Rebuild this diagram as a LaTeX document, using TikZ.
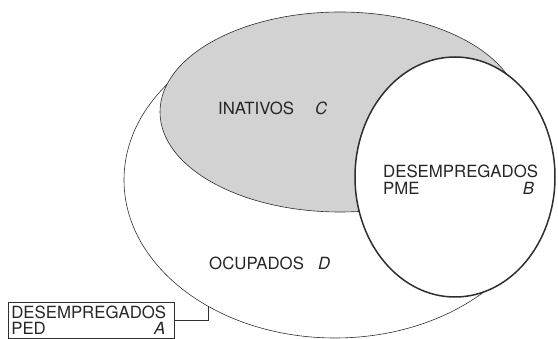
\documentclass[tikz,border=0pt]{standalone}
\usepackage{fontspec}
\setmainfont{TeX Gyre Heros}
\usetikzlibrary{positioning, shapes.geometric}
\definecolor{vline}{HTML}{2E2E2E}
\definecolor{vshade}{HTML}{D2D2D2}
\tikzset{
  setshape/.style={ellipse, draw=vline, inner sep=0pt, outer sep=0pt, line width=0.6pt},
  lab/.style={font=\fontsize{16.8}{16.5}\selectfont, inner sep=0pt, anchor=base west, text=black!85},
  wire/.style={draw=vline, line width=0.6pt},
}

\begin{document}
\begin{tikzpicture}[x=1pt, y=-1pt,
    pedbox/.style={draw=vline, line width=0.6pt, font=\fontsize{16.8}{15.5}\selectfont,
                   text width=160pt, align=left, inner xsep=3pt, inner ysep=4pt,
                   anchor=north west, text=black!85}]
  \useasboundingbox (0,0) rectangle (558,339);
  \node[setshape, minimum width=422pt, minimum height=316pt] (ocup) at (335,180) {};
  \node[setshape, fill=vshade, minimum width=360pt, minimum height=200pt] (inat) at (340,112) {};
  \node[setshape, fill=white, line width=1.5pt, minimum width=200pt, minimum height=240pt] (pme) at (455,177) {};
  \node[lab] (inatT) at (218,115) {INATIVOS};
  \node[lab] (inatL) at (315,115) {\textit{C}};
  \node[lab] (ocupT) at (209,270) {OCUPADOS};
  \node[lab] (ocupL) at (318,270) {\textit{D}};
  \node[lab, text width=151pt, align=left] (pmeT) at (383,178) {DESEMPREGADOS\\PME\hfill\textit{B}};
  \node[pedbox] (ped) at (8,302) {DESEMPREGADOS\\PED\hfill\textit{A}\hspace*{6pt}};
  \draw[wire] (ped.east) -| (ocup.225);
\end{tikzpicture}
\end{document}
